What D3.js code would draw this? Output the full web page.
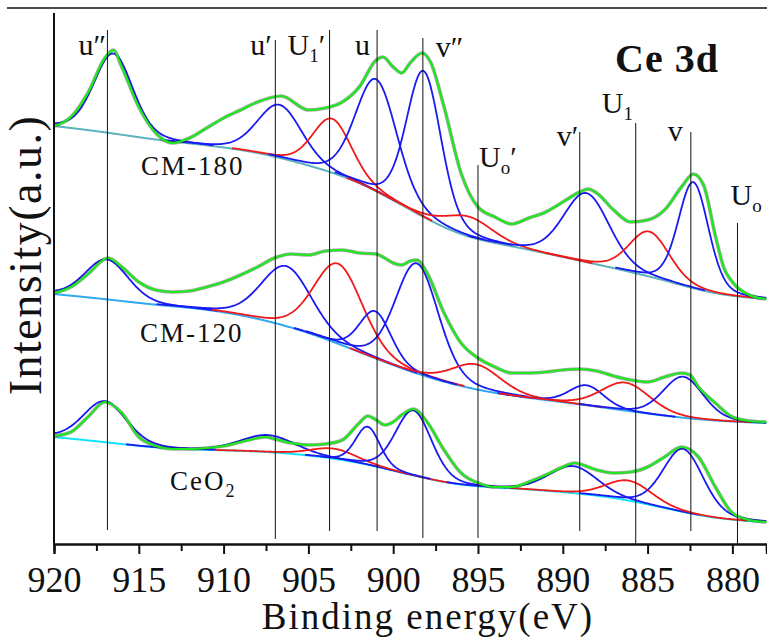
<!DOCTYPE html>
<html>
<head>
<meta charset="utf-8">
<script src="https://cdn.jsdelivr.net/npm/d3@7"></script>
<style>
  body { margin: 0; background: #fff; }
  svg { display: block; }
  text { font-family: "Liberation Serif", "Times New Roman", serif; fill: #111; }
</style>
</head>
<body>
<div id="chart"></div>
<script>
const bgEnergy = [920, 917, 914, 911, 908, 905, 902, 899, 896, 893, 890, 887, 884, 881, 878]
// Shirley backgrounds (a.u.), stacked spectra
const bgCM180 = [41.8, 41.2, 40.4, 39.9, 39.2, 37.9, 36.3, 33.4, 30.7, 29.8, 28.7, 27.6, 26.4, 24.9, 24.5]
const bgCM120 = [25.0, 24.5, 23.9, 23.5, 22.6, 21.2, 19.2, 17.2, 15.7, 14.8, 14.2, 13.5, 12.8, 12.3, 12.1]
const bgCeO2 = [10.7, 10.2, 9.6, 9.4, 9.3, 8.9, 8.2, 6.9, 5.8, 5.6, 5.2, 4.7, 3.6, 2.5, 2.2]

const envE_CM180 = [920, 919, 918, 917, 916.5, 916, 915, 914, 913, 912, 911, 910, 909, 908, 906.6, 905, 904, 903, 902, 901, 900.6, 900, 899.5, 899, 898.3, 897.8, 897, 896, 895, 894, 893, 892, 891, 890, 889, 888.5, 888, 887, 886, 885, 884, 883, 882.3, 881.7, 881, 880.5, 880, 879, 878]
const envI_CM180 = [41.8, 42.7, 45.1, 48.6, 49.4, 47.7, 43.7, 41.1, 40.1, 40.6, 41.6, 42.6, 43.4, 44.2, 44.8, 43.4, 43.6, 44.2, 45.7, 48.4, 48.7, 47.7, 47.1, 48.1, 49.1, 48.2, 43.7, 37.1, 33.7, 32.7, 32.0, 32.6, 33.2, 34.2, 35.2, 35.5, 35.1, 33.4, 32.2, 32.4, 33.4, 35.7, 37.0, 35.9, 30.8, 27.6, 26.2, 24.9, 24.5]

const envE_CM120 = [920, 919, 918, 917, 916.8, 916, 915, 914, 913, 912, 911, 910, 909, 908, 907, 906, 905, 904, 903, 902, 901, 900.5, 900, 899.5, 899, 898.6, 898, 897, 896, 895, 894, 893, 892, 891, 890, 889, 888, 887, 886, 885, 884, 883, 882.5, 882, 881, 880, 879, 878]
const envI_CM120 = [25.1, 25.7, 27.0, 28.5, 28.6, 27.7, 26.2, 25.4, 25.2, 25.3, 25.7, 26.2, 26.9, 27.7, 28.6, 29.0, 28.9, 29.3, 29.4, 29.1, 29.0, 28.6, 28.1, 27.9, 28.3, 28.4, 27.1, 23.1, 20.1, 18.6, 17.7, 17.1, 17.1, 17.2, 17.4, 17.5, 17.3, 16.8, 16.4, 16.2, 16.7, 17.1, 16.9, 15.7, 14.1, 12.7, 12.3, 12.2]

const envE_CeO2 = [920, 919, 918, 917, 916, 915, 914, 913, 912, 911, 910, 909, 908, 907.5, 907, 906, 905, 904, 903, 902, 901.5, 901, 900.5, 900, 899.5, 898.8, 898, 897, 896, 895, 894, 893, 892, 891, 890, 889.3, 889, 888, 887, 886, 885, 884, 883, 882, 881, 880, 879, 878]
const envI_CeO2 = [10.8, 11.2, 12.7, 14.2, 13.1, 10.7, 9.8, 9.5, 9.5, 9.6, 9.8, 10.2, 10.6, 10.7, 10.5, 10.1, 9.9, 10.0, 10.4, 12.1, 12.8, 12.4, 11.9, 12.2, 12.9, 13.5, 12.2, 9.4, 7.1, 6.1, 5.7, 5.7, 6.2, 6.9, 7.7, 8.1, 8.0, 7.4, 7.1, 7.2, 7.7, 8.7, 9.7, 8.7, 5.7, 3.1, 2.4, 2.2]

// fitted components: "4" = Ce4+ (blue), "3" = Ce3+ (red)
const typeCM180 = ["4", "4", "3", "4", "4", "3", "4", "3", "4"]
const centerCM180 = [916.5, 906.7, 903.6, 901.0, 898.2, 895.5, 888.6, 884.9, 882.3]
const heightCM180 = [8.0, 5.3, 5.4, 11.2, 14.6, 2.0, 6.9, 4.5, 10.6]
const fwhmCM180 = [2.7, 3.1, 2.7, 2.9, 2.4, 3.3, 3.2, 2.8, 2.1]

const typeCM120 = ["4", "4", "3", "4", "4", "3", "4", "3", "4"]
const centerCM120 = [916.9, 906.3, 903.25, 901.05, 898.6, 895.1, 888.6, 886.3, 882.9]
const heightCM120 = [4.0, 6.0, 8.0, 4.7, 11.0, 2.5, 2.0, 2.8, 4.1]
const fwhmCM120 = [3.0, 3.5, 3.4, 2.2, 3.0, 3.4, 2.4, 3.4, 2.8]

const typeCeO2 = ["4", "4", "3", "4", "4", "4", "3", "4"]
const centerCeO2 = [917.0, 907.4, 903.5, 901.5, 898.8, 889.4, 886.1, 882.9]
const heightCeO2 = [4.1, 1.7, 1.0, 3.8, 6.5, 2.7, 2.0, 6.3]
const fwhmCeO2 = [3.0, 3.8, 3.2, 1.7, 2.5, 3.4, 3.2, 2.8]

// reference lines and their labels
const lineEnergy = [916.85, 906.95, 903.75, 900.95, 898.25, 895.0, 889.0, 885.7, 882.45, 879.7]
const lineBase = ["u", "u", "U", "u", "v", "U", "v", "U", "v", "U"]
const lineSub = ["", "", "1", "", "", "o", "", "1", "", "o"]
const lineMark = ["″", "′", "′", "", "″", "′", "′", "", "", ""]

const sampleNames = ["CM-180", "CM-120", "CeO"]
const sampleSubs = ["", "", "2"]

const majorTicks = [920, 915, 910, 905, 900, 895, 890, 885, 880]
const minorTicks = [917.5, 912.5, 907.5, 902.5, 897.5, 892.5, 887.5, 882.5]

// ---- layout ----
const W = 767, H = 637
const svg = d3.select('#chart').append('svg').attr('width', W).attr('height', H)

const x = d3.scaleLinear().domain([920, 878]).range([54, 766.3])
const y = d3.scaleLinear().domain([0, 53]).range([544, 14])

const colors = { "4": "#1a1af2", "3": "#f01a1a" }
const spectra = [
    { bg: bgCM180, envE: envE_CM180, envI: envI_CM180, type: typeCM180, c: centerCM180, h: heightCM180, w: fwhmCM180, bgColor: "#5cb3bd" },
    { bg: bgCM120, envE: envE_CM120, envI: envI_CM120, type: typeCM120, c: centerCM120, h: heightCM120, w: fwhmCM120, bgColor: "#2fa9f2" },
    { bg: bgCeO2, envE: envE_CeO2, envI: envI_CeO2, type: typeCeO2, c: centerCeO2, h: heightCeO2, w: fwhmCeO2, bgColor: "#14e2f8" }
]

// Gaussian-Lorentzian (80/20) line shape of a fitted component
const peak = (e, c, h, w) => {
    let d = (e - c) / w
    return h * (0.8 * Math.exp(-4 * Math.LN2 * d * d) + 0.2 / (1 + 4 * d * d))
}

const grid = d3.range(920, 877.99, -0.05)
const line = d3.line().x(d => x(d[0])).y(d => y(d[1]))
const smooth = d3.line().curve(d3.curveMonotoneX).x(d => x(d[0])).y(d => y(d[1]))

const gBg = svg.append('g'), gComp = svg.append('g'), gFit = svg.append('g')

spectra.forEach(s => {
    let basis = d3.interpolateBasis(s.bg)
    let bgAt = e => basis((bgEnergy[0] - e) / (bgEnergy[0] - bgEnergy[bgEnergy.length - 1]))

    gBg.append('path')
        .attr('d', line(grid.map(e => [e, bgAt(e)])))
        .attr('fill', 'none').attr('stroke', s.bgColor).attr('stroke-width', 2)

    s.c.forEach((c, i) => {
        let pts = grid.filter(e => Math.abs(e - c) <= 2.2 * s.w[i])
        gComp.append('path')
            .attr('d', line(pts.map(e => [e, bgAt(e) + peak(e, c, s.h[i], s.w[i])])))
            .attr('fill', 'none').attr('stroke', colors[s.type[i]]).attr('stroke-width', 1.8)
    })

    let env = s.envE.map((e, i) => [e, s.envI[i]])
    // raw data trace sits just under the envelope
    gFit.append('path').attr('d', smooth(env))
        .attr('fill', 'none').attr('stroke', '#222').attr('stroke-opacity', 0.4).attr('stroke-width', 3.6)
    gFit.append('path').attr('d', smooth(env))
        .attr('fill', 'none').attr('stroke', '#1ee81e').attr('stroke-width', 2.2)
})

// reference lines
const lineTop = [30, 40, 30, 30, 38, 165, 132, 123, 132, 223]
const lineBottom = [530, 539, 531, 531, 538, 538, 531, 544, 531, 544]
const labelDx = [-29, -25, -42, -22, 13, 1, -23, -34, -23, -7]
const labelY = [55, 55, 55, 55, 57, 167, 146, 113, 141, 205]

svg.append('g').selectAll('line').data(lineEnergy).enter().append('line')
    .attr('x1', d => x(d)).attr('x2', d => x(d))
    .attr('y1', (d, i) => lineTop[i]).attr('y2', (d, i) => lineBottom[i])
    .attr('stroke', '#111').attr('stroke-width', 1)

const lbl = svg.append('g').selectAll('text').data(lineEnergy).enter().append('text')
    .attr('x', (d, i) => x(d) + labelDx[i]).attr('y', (d, i) => labelY[i])
    .attr('font-size', 30)
lbl.append('tspan').text((d, i) => lineBase[i])
lbl.append('tspan').attr('font-size', 19).attr('dy', 7).text((d, i) => lineSub[i])
lbl.append('tspan').attr('dy', (d, i) => lineSub[i] ? -7 : 0).text((d, i) => lineMark[i])

// sample names
const nameX = [141, 140, 170], nameY = [175, 342, 490]
const nm = svg.append('g').selectAll('text').data(sampleNames).enter().append('text')
    .attr('x', (d, i) => nameX[i]).attr('y', (d, i) => nameY[i])
    .attr('font-size', 27).attr('letter-spacing', 2)
nm.append('tspan').text(d => d)
nm.append('tspan').attr('font-size', 18).attr('dy', 7).text((d, i) => sampleSubs[i])

svg.append('text').attr('x', 615).attr('y', 72).attr('letter-spacing', 1)
    .attr('font-size', 40).attr('font-weight', 'bold').text('Ce 3d')

// axes
svg.append('line').attr('x1', 7).attr('x2', W).attr('y1', 8).attr('y2', 8)
    .attr('stroke', '#111').attr('stroke-width', 1.5)
svg.append('line').attr('x1', 54).attr('x2', 54).attr('y1', 13).attr('y2', 545)
    .attr('stroke', '#111').attr('stroke-width', 2)

const gx = svg.append('g').attr('transform', 'translate(0,544)')
gx.append('g').call(d3.axisBottom(x).tickValues(minorTicks).tickSize(7).tickFormat(''))
gx.append('g').call(d3.axisBottom(x).tickValues(majorTicks).tickSize(10).tickPadding(12).tickFormat(d3.format('d')))
gx.selectAll('.domain').attr('stroke-width', 2).attr('stroke', '#111')
gx.selectAll('.tick line').attr('stroke-width', 2).attr('stroke', '#111')
gx.selectAll('.tick text').attr('font-size', 36).attr('fill', '#111')
    .attr('font-family', '"Liberation Serif", "Times New Roman", serif')

svg.append('text').attr('x', 428).attr('y', 629).attr('text-anchor', 'middle')
    .attr('font-size', 37).attr('letter-spacing', 2).text('Binding energy(eV)')
svg.append('text').attr('transform', 'translate(41,255) rotate(-90)').attr('text-anchor', 'middle')
    .attr('font-size', 46).attr('letter-spacing', 1.5).text('Intensity(a.u.)')
</script>
</body>
</html>
